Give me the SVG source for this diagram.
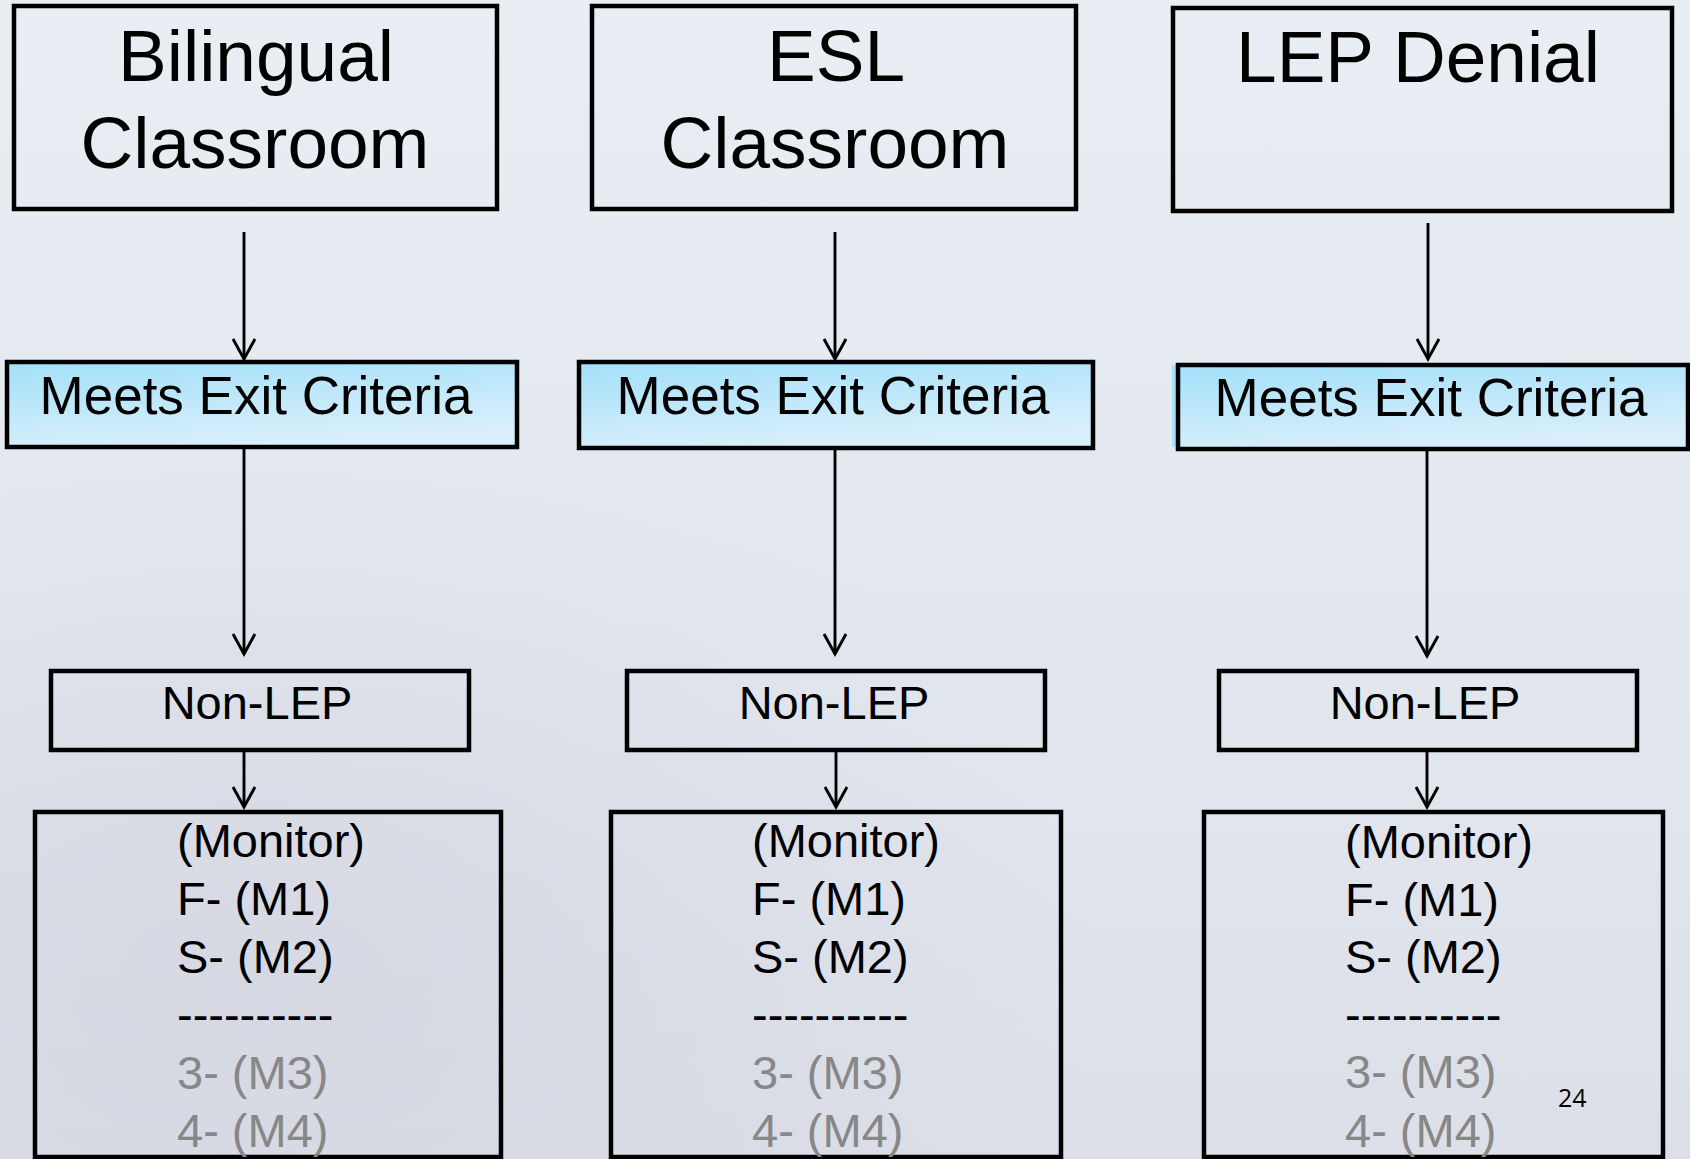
<svg xmlns="http://www.w3.org/2000/svg" width="1690" height="1159" viewBox="0 0 1690 1159">
  <defs>
    <linearGradient id="bg" x1="0" y1="0" x2="0" y2="1">
      <stop offset="0" stop-color="#e9eef4"/>
      <stop offset="0.45" stop-color="#e4e9f0"/>
      <stop offset="1" stop-color="#dcdfe8"/>
    </linearGradient>
    <radialGradient id="blob" cx="0.15" cy="0.85" r="0.5">
      <stop offset="0" stop-color="#d0d1dd" stop-opacity="0.6"/>
      <stop offset="1" stop-color="#d0d1dd" stop-opacity="0"/>
    </radialGradient>
    <linearGradient id="meets" x1="0" y1="0" x2="0.35" y2="1">
      <stop offset="0" stop-color="#a3e0f9"/>
      <stop offset="1" stop-color="#d9effb"/>
    </linearGradient>
    <marker id="arrow" markerUnits="userSpaceOnUse" viewBox="-24 -14 27 28" markerWidth="27" markerHeight="28" refX="0" refY="0" orient="auto">
      <path d="M -20 -11 L 0 0 L -20 11" fill="none" stroke="#000" stroke-width="2.9" stroke-linejoin="miter"/>
    </marker>
  </defs>
  <style>
    .box { fill: none; stroke: #000; stroke-width: 4.5; }
    .mbox { fill: url(#meets); stroke: #000; stroke-width: 4.5; }
    .t { font-family: "Liberation Sans", Arial, sans-serif; fill: #000; }
    .title { font-size: 73px; text-anchor: middle; }
    .meets { font-size: 53px; text-anchor: middle; }
    .nonlep { font-size: 47px; text-anchor: middle; }
    .mon { font-size: 47px; }
    .grey { fill: #878787; }
    .conn { stroke: #000; stroke-width: 2.9; fill: none; marker-end: url(#arrow); }
  </style>

  <rect x="0" y="0" width="1690" height="1159" fill="url(#bg)"/>
  <rect x="0" y="0" width="1690" height="1159" fill="url(#blob)"/>

  <!-- Column 1 -->
  <g id="bilingual">
    <rect class="box" x="14" y="6" width="483" height="203"/>
    <text class="t title" x="256" y="81">Bilingual</text>
    <text class="t title" x="255" y="168">Classroom</text>
  </g>
  <g id="meets1">
    <rect class="mbox" x="7" y="362" width="510" height="85"/>
    <text class="t meets" x="256" y="414">Meets Exit Criteria</text>
  </g>
  <g id="nonlep1">
    <rect class="box" x="51" y="671" width="418" height="79"/>
    <text class="t nonlep" x="257" y="719">Non-LEP</text>
  </g>
  <g id="monitor1">
    <rect class="box" x="35" y="812" width="466" height="345"/>
    <text class="t mon" x="177" y="857">(Monitor)</text>
    <text class="t mon" x="177" y="915">F- (M1)</text>
    <text class="t mon" x="177" y="973">S- (M2)</text>
    <text class="t mon" x="177" y="1031">----------</text>
    <text class="t mon grey" x="177" y="1089">3- (M3)</text>
    <text class="t mon grey" x="177" y="1147">4- (M4)</text>
  </g>

  <!-- Column 2 -->
  <g id="esl">
    <rect class="box" x="592" y="6" width="484" height="203"/>
    <text class="t title" x="836" y="81">ESL</text>
    <text class="t title" x="835" y="168">Classroom</text>
  </g>
  <g id="meets2">
    <rect class="mbox" x="579" y="362" width="514" height="86"/>
    <text class="t meets" x="833" y="414">Meets Exit Criteria</text>
  </g>
  <g id="nonlep2">
    <rect class="box" x="627" y="671" width="418" height="79"/>
    <text class="t nonlep" x="834" y="719">Non-LEP</text>
  </g>
  <g id="monitor2">
    <rect class="box" x="611" y="812" width="450" height="345"/>
    <text class="t mon" x="752" y="857">(Monitor)</text>
    <text class="t mon" x="752" y="915">F- (M1)</text>
    <text class="t mon" x="752" y="973">S- (M2)</text>
    <text class="t mon" x="752" y="1031">----------</text>
    <text class="t mon grey" x="752" y="1089">3- (M3)</text>
    <text class="t mon grey" x="752" y="1147">4- (M4)</text>
  </g>

  <!-- Column 3 -->
  <g id="lepdenial">
    <rect class="box" x="1173" y="8" width="499" height="203"/>
    <text class="t title" x="1418" y="82">LEP Denial</text>
  </g>
  <g id="meets3">
    <rect x="1172" y="365" width="8" height="82" fill="#a8e2fa"/>
    <rect class="mbox" x="1178" y="365" width="510" height="84"/>
    <text class="t meets" x="1431" y="416">Meets Exit Criteria</text>
  </g>
  <g id="nonlep3">
    <rect class="box" x="1219" y="671" width="418" height="79"/>
    <text class="t nonlep" x="1425" y="719">Non-LEP</text>
  </g>
  <g id="monitor3">
    <rect class="box" x="1204" y="812" width="459" height="345"/>
    <text class="t mon" x="1345" y="858">(Monitor)</text>
    <text class="t mon" x="1345" y="916">F- (M1)</text>
    <text class="t mon" x="1345" y="973">S- (M2)</text>
    <text class="t mon" x="1345" y="1031">----------</text>
    <text class="t mon grey" x="1345" y="1088">3- (M3)</text>
    <text class="t mon grey" x="1345" y="1147">4- (M4)</text>
  </g>

  <text id="pagenum" x="1558" y="1107" font-family="'Open Sans', sans-serif" font-size="25" fill="#000">24</text>

  <g id="connectors">
    <line class="conn" x1="244" y1="232" x2="244" y2="359"/>
    <line class="conn" x1="244" y1="447" x2="244" y2="654"/>
    <line class="conn" x1="244" y1="750" x2="244" y2="807"/>
    <line class="conn" x1="835" y1="232" x2="835" y2="359"/>
    <line class="conn" x1="835" y1="448" x2="835" y2="654"/>
    <line class="conn" x1="836" y1="750" x2="836" y2="807"/>
    <line class="conn" x1="1428" y1="223" x2="1428" y2="359"/>
    <line class="conn" x1="1427" y1="449" x2="1427" y2="656"/>
    <line class="conn" x1="1427" y1="750" x2="1427" y2="807"/>
  </g>
</svg>
